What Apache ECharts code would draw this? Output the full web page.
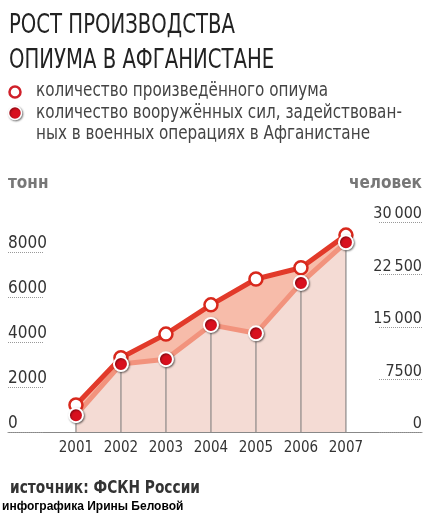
<!DOCTYPE html>
<html>
<head>
<meta charset="utf-8">
<script src="https://cdn.jsdelivr.net/npm/echarts@6/dist/echarts.min.js"></script>
<style>
  html, body { margin: 0; padding: 0; background: #fff; }
  #chart { width: 434px; height: 517px; }
</style>
</head>
<body>
<div id="chart"></div>
<script>
// данные с графика
const years = [2001, 2002, 2003, 2004, 2005, 2006, 2007];
const opium = [1200, 3300, 4350, 5650, 6800, 7300, 8750];       // тонн
const forces = [2400, 9700, 10400, 15300, 14100, 21300, 27100]; // человек
const leftTicks = [0, 2000, 4000, 6000, 8000];
const rightTicks = [0, 7500, 15000, 22500, 30000];

const narrow = "'DejaVu Sans Condensed', 'Liberation Sans Narrow', sans-serif";

const opiumPts = years.map((y, i) => [y, opium[i]]);
const forcesPts = years.map((y, i) => [y, forces[i]]);

function fmtThousands(v) {
  // 7500 пишется слитно, остальные с узким пробелом
  if (v < 10000) return String(v);
  return String(v).replace(/(\d)(?=(\d{3})+$)/g, '$1\u2009');
}

const chart = echarts.init(document.getElementById('chart'));

const option = {
  animation: false,
  backgroundColor: '#fff',
  graphic: [
    { type: 'text', left: 9, top: 8, scaleX: 0.81, originX: 0,
      style: { text: 'РОСТ ПРОИЗВОДСТВА\nОПИУМА В АФГАНИСТАНЕ', font: '27px ' + narrow, lineHeight: 35, fill: '#222' } },
    { type: 'circle', shape: { cx: 15, cy: 92, r: 5.5 }, style: { fill: '#fff', stroke: '#d0202a', lineWidth: 2.5 } },
    { type: 'circle', shape: { cx: 15, cy: 113, r: 6.5 }, style: { fill: '#d8101e', stroke: '#fff', lineWidth: 1.5, shadowBlur: 2, shadowColor: 'rgba(0,0,0,0.45)', shadowOffsetX: 1, shadowOffsetY: 1 } },
    { type: 'text', left: 36, top: 82, scaleX: 0.89, originX: 0,
      style: { text: 'количество произведённого опиума', font: '19px ' + narrow, fill: '#444' } },
    { type: 'text', left: 36, top: 103, scaleX: 0.89, originX: 0,
      style: { text: 'количество вооружённых сил, задействован-\nных в военных операциях в Афганистане', font: '19px ' + narrow, lineHeight: 20.5, fill: '#444' } },
    { type: 'text', left: 10, top: 480, scaleX: 0.9, originX: 0,
      style: { text: 'источник: ФСКН России', font: 'bold 17px ' + narrow, fill: '#333' } },
    { type: 'text', left: 2, top: 501, style: { text: 'инфографика Ирины Беловой', font: 'bold 12px Arial, "Liberation Sans", sans-serif', fill: '#000' } }
  ],
  grid: { left: 8, right: 12, top: 222, bottom: 85 },
  xAxis: {
    type: 'value',
    min: 1999.49,
    max: 2008.69,
    splitLine: { show: false },
    axisLine: { show: true, lineStyle: { color: '#888', width: 1 } },
    axisTick: { show: false },
    axisLabel: {
      customValues: years,
      margin: 9,
      fontFamily: narrow,
      fontSize: 15,
      color: '#333',
      formatter: v => String(v)
    }
  },
  yAxis: [
    {
      type: 'value',
      position: 'left',
      min: 0,
      max: 9333.33,
      name: 'тонн',
      nameLocation: 'end',
      nameGap: 30,
      nameTextStyle: { align: 'left', fontFamily: narrow, fontWeight: 'bold', fontSize: 17, color: '#777' },
      splitLine: { show: false },
      axisLine: { show: false },
      axisTick: { show: true, inside: true, length: 36, customValues: leftTicks, lineStyle: { color: '#999', type: 'dotted' } },
      axisLabel: { inside: true, margin: 0, customValues: leftTicks, verticalAlign: 'bottom', align: 'left', fontFamily: narrow, fontSize: 17, color: '#333', formatter: v => String(v) }
    },
    {
      type: 'value',
      position: 'right',
      min: 0,
      max: 30000,
      name: 'человек',
      nameLocation: 'end',
      nameGap: 30,
      nameTextStyle: { align: 'right', fontFamily: narrow, fontWeight: 'bold', fontSize: 17, color: '#777' },
      splitLine: { show: false },
      axisLine: { show: false },
      axisTick: { show: true, inside: true, length: 44, customValues: rightTicks, lineStyle: { color: '#999', type: 'dotted' } },
      axisLabel: { inside: true, margin: 0, customValues: rightTicks, verticalAlign: 'bottom', align: 'right', fontFamily: narrow, fontSize: 16, color: '#333', formatter: fmtThousands }
    }
  ],
  series: [
    {
      name: 'opiumArea', type: 'line', yAxisIndex: 0, data: opiumPts, z: 1,
      symbol: 'none', lineStyle: { width: 0 }, areaStyle: { color: '#f7bcaa', opacity: 1 }
    },
    {
      name: 'forcesArea', type: 'line', yAxisIndex: 1, data: forcesPts, z: 2,
      symbol: 'none', lineStyle: { width: 0 }, areaStyle: { color: '#f4dbd4', opacity: 1 }
    },
    {
      name: 'drop', type: 'bar', yAxisIndex: 1, data: forcesPts, z: 3,
      barWidth: 1, itemStyle: { color: '#777' }
    },
    {
      name: 'forcesLine', type: 'line', yAxisIndex: 1, data: forcesPts, z: 4,
      showSymbol: false, lineStyle: { color: '#f2937d', width: 5 }
    },
    {
      name: 'opiumLine', type: 'line', yAxisIndex: 0, data: opiumPts, z: 5,
      showSymbol: false, lineStyle: { color: '#e23a2a', width: 5 }
    },
    {
      name: 'opiumDots', type: 'scatter', yAxisIndex: 0, data: opiumPts, z: 6,
      symbolSize: 13, itemStyle: { color: '#fff', borderColor: '#d8281c', borderWidth: 2.5, opacity: 1 }
    },
    {
      name: 'forcesDots', type: 'scatter', yAxisIndex: 1, data: forcesPts, z: 7,
      symbolSize: 14,
      itemStyle: {
        color: '#d8101e', borderColor: '#fff', borderWidth: 2, opacity: 1,
        shadowBlur: 2, shadowColor: 'rgba(0,0,0,0.45)', shadowOffsetX: 1, shadowOffsetY: 1
      }
    }
  ]
};

chart.setOption(option);
</script>
</body>
</html>
